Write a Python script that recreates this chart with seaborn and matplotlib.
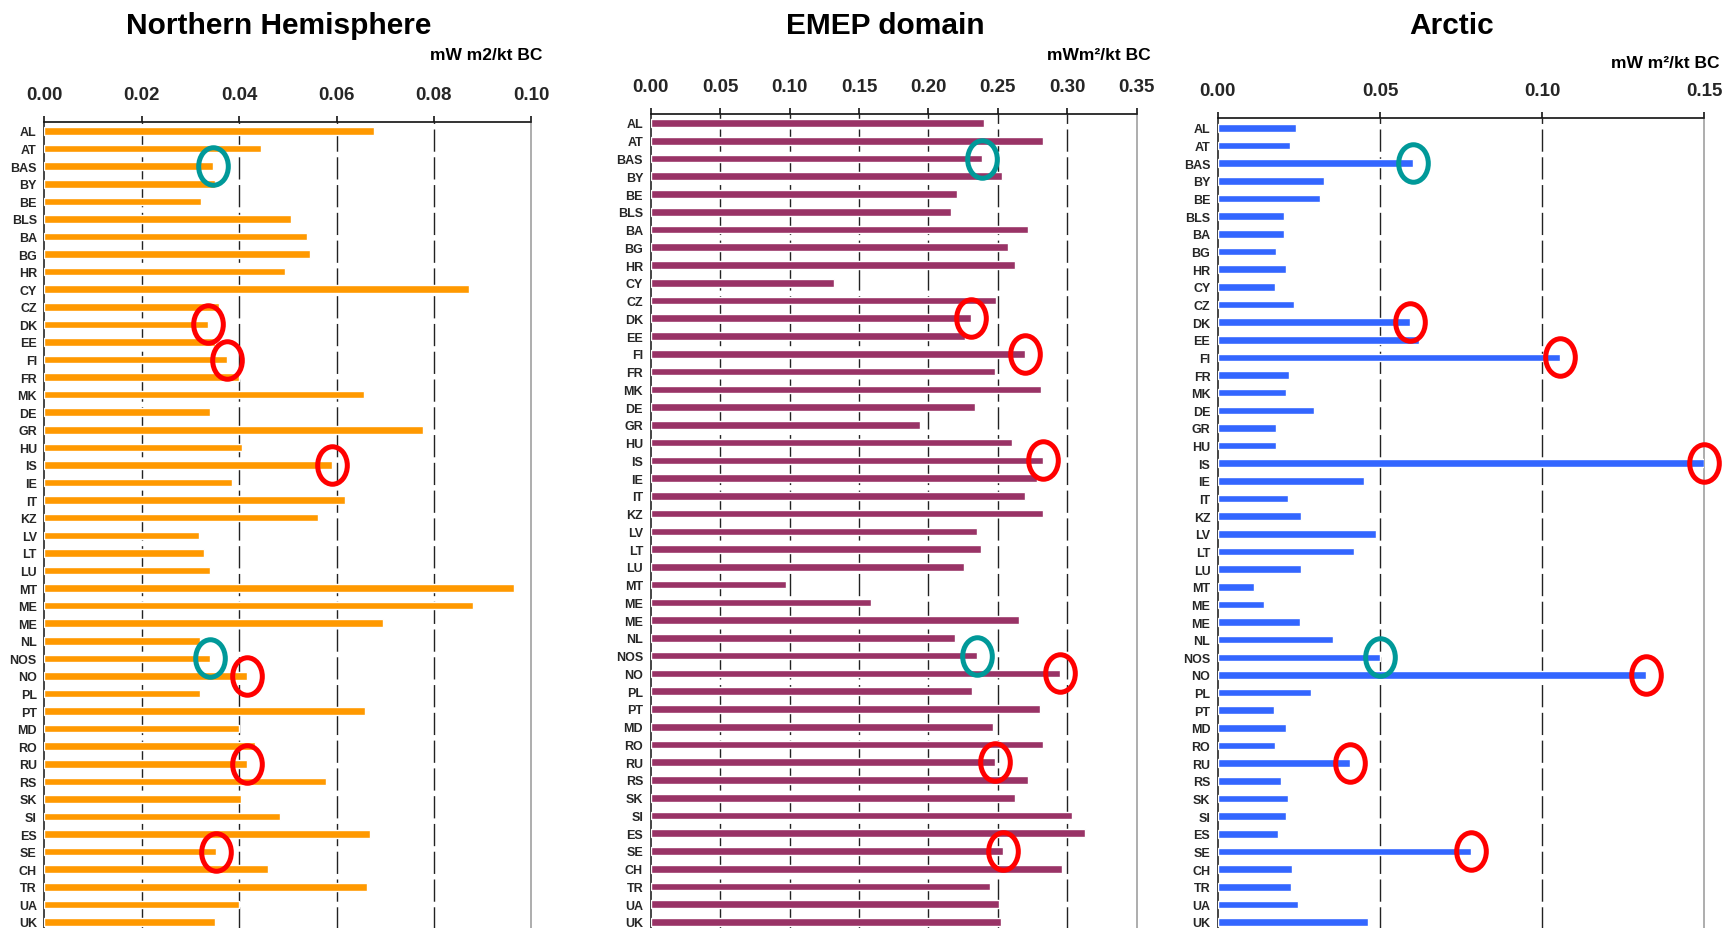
import numpy as np
import pandas as pd
import matplotlib
matplotlib.use("Agg")
import matplotlib.pyplot as plt
from matplotlib.path import Path
from matplotlib.transforms import Affine2D
import seaborn as sns

# Source countries / regions, top to bottom
countries = ["AL", "AT", "BAS", "BY", "BE", "BLS", "BA", "BG", "HR", "CY",
             "CZ", "DK", "EE", "FI", "FR", "MK", "DE", "GR", "HU", "IS",
             "IE", "IT", "KZ", "LV", "LT", "LU", "MT", "ME", "ME", "NL",
             "NOS", "NO", "PL", "PT", "MD", "RO", "RU", "RS", "SK", "SI",
             "ES", "SE", "CH", "TR", "UA", "UK"]

# Radiative forcing per emitted kt BC (mW m-2 / kt BC)
nh_values = [0.0676, 0.0445, 0.0346, 0.0351, 0.0322, 0.0506, 0.0540, 0.0545, 0.0495, 0.0872,
             0.0358, 0.0335, 0.0350, 0.0376, 0.0399, 0.0656, 0.0340, 0.0777, 0.0405, 0.0590,
             0.0385, 0.0617, 0.0562, 0.0317, 0.0328, 0.0340, 0.0964, 0.0880, 0.0695, 0.0320,
             0.0340, 0.0416, 0.0320, 0.0658, 0.0400, 0.0433, 0.0417, 0.0578, 0.0403, 0.0483,
             0.0668, 0.0353, 0.0459, 0.0663, 0.0400, 0.0351]

emep_values = [0.2403, 0.2828, 0.2384, 0.2530, 0.2205, 0.2159, 0.2720, 0.2574, 0.2620, 0.1317,
               0.2484, 0.2303, 0.2260, 0.2693, 0.2476, 0.2812, 0.2338, 0.1942, 0.2603, 0.2828,
               0.2780, 0.2693, 0.2828, 0.2349, 0.2376, 0.2259, 0.0973, 0.1587, 0.2655, 0.2194,
               0.2349, 0.2947, 0.2313, 0.2801, 0.2465, 0.2828, 0.2476, 0.2720, 0.2620, 0.3034,
               0.3126, 0.2538, 0.2964, 0.2446, 0.2509, 0.2519]

arctic_values = [0.0242, 0.0222, 0.0602, 0.0327, 0.0316, 0.0203, 0.0203, 0.0180, 0.0211, 0.0176,
                 0.0234, 0.0594, 0.0621, 0.1056, 0.0218, 0.0211, 0.0297, 0.0180, 0.0180, 0.1500,
                 0.0452, 0.0215, 0.0257, 0.0487, 0.0420, 0.0257, 0.0110, 0.0142, 0.0253, 0.0354,
                 0.0499, 0.1320, 0.0288, 0.0172, 0.0211, 0.0176, 0.0408, 0.0196, 0.0215, 0.0211,
                 0.0184, 0.0782, 0.0230, 0.0226, 0.0246, 0.0463]

# Highlighted entries
red_marked = ["DK", "FI", "IS", "NO", "RU", "SE"]
teal_marked = ["BAS", "NOS"]

panel_titles = ["Northern Hemisphere", "EMEP domain", "Arctic"]
unit_labels = ["mW m2/kt BC", "mWm\u00b2/kt BC", "mW m\u00b2/kt BC"]
x_max = [0.10, 0.35, 0.15]
x_step = [0.02, 0.05, 0.05]

sns.set_style("white")
plt.rcParams["font.family"] = ["Liberation Sans", "DejaVu Sans"]
plt.rcParams["font.weight"] = "bold"

W, H = 1731, 929
fig = plt.figure(figsize=(W / 100, H / 100), dpi=100)

# pixel geometry of the three panels: left, right, top, first-row centre
geometry = [
    dict(left=44.4, right=531.3, top=122.7, first=132.0, title_x=279, unit_r=542, unit_y=56),
    dict(left=650.7, right=1136.8, top=115.3, first=124.0, title_x=885, unit_r=1151, unit_y=56),
    dict(left=1217.9, right=1704.1, top=119.3, first=129.0, title_x=1452, unit_r=1720, unit_y=63),
]
colors = ["#FF9900", "#993366", "#3366FF"]
series = [nh_values, emep_values, arctic_values]

last_row_y = 923.0
bottom_px = 940.0
n = len(countries)

# elliptical ring marker
ring = Path.unit_circle().transformed(Affine2D().scale(0.79, 1.0))

for g, vals, col, title, unit, xm, xs in zip(geometry, series, colors, panel_titles,
                                              unit_labels, x_max, x_step):
    ax = fig.add_axes([g["left"] / W, (H - bottom_px) / H,
                       (g["right"] - g["left"]) / W, (bottom_px - g["top"]) / H])
    df = pd.DataFrame({"row": np.arange(n), "value": vals})
    sns.barplot(data=df, x="value", y="row", orient="h", color=col, saturation=1,
                width=0.43, errorbar=None, ax=ax, zorder=3)

    step = (last_row_y - g["first"]) / (n - 1)
    ax.set_ylim(n - 1 + (bottom_px - last_row_y) / step, -(g["first"] - g["top"]) / step)
    ax.set_xlim(0, xm)

    ticks = np.round(np.arange(0, xm + xs / 2, xs), 3)
    ax.set_xticks(ticks)
    ax.set_xticklabels([f"{t:.2f}" for t in ticks])
    ax.xaxis.tick_top()
    ax.tick_params(axis="x", direction="out", length=4.3, width=1.1, pad=9.5,
                   labelsize=13.5, color="black", top=True, bottom=False)
    ax.set_yticks(np.arange(n))
    ax.set_yticklabels(countries)
    ax.tick_params(axis="y", length=0, pad=5.5, labelsize=9)
    ax.set_xlabel("")
    ax.set_ylabel("")

    ax.set_axisbelow(True)
    ax.xaxis.grid(True, linestyle=(0, (16, 4)), color="#222222", linewidth=1.0)
    gls = ax.get_xgridlines()
    gls[0].set_visible(False)
    gls[-1].set_visible(False)

    ax.spines["bottom"].set_visible(False)
    ax.spines["top"].set_color("#111111")
    ax.spines["top"].set_linewidth(1.2)
    ax.spines["left"].set_color("#444444")
    ax.spines["left"].set_linewidth(1.4)
    ax.spines["right"].set_color("#a0a0a0")
    ax.spines["right"].set_linewidth(1.2)

    for names, ring_col in ((red_marked, "#FF0000"), (teal_marked, "#009999")):
        idx = [countries.index(c) for c in names]
        ax.plot([vals[i] for i in idx], idx, linestyle="none", marker=ring,
                markersize=27, markerfacecolor="none", markeredgecolor=ring_col,
                markeredgewidth=3.6, clip_on=False, zorder=5)

    fig.text(g["title_x"] / W, 1 - 34 / H, title, ha="center", va="baseline",
             fontsize=21.5, fontweight="bold", color="black")
    fig.text(g["unit_r"] / W, 1 - g["unit_y"] / H, unit, ha="right", va="center",
             fontsize=12.5, fontweight="bold", color="black")

fig.savefig("out.png", dpi=100, facecolor="white")
